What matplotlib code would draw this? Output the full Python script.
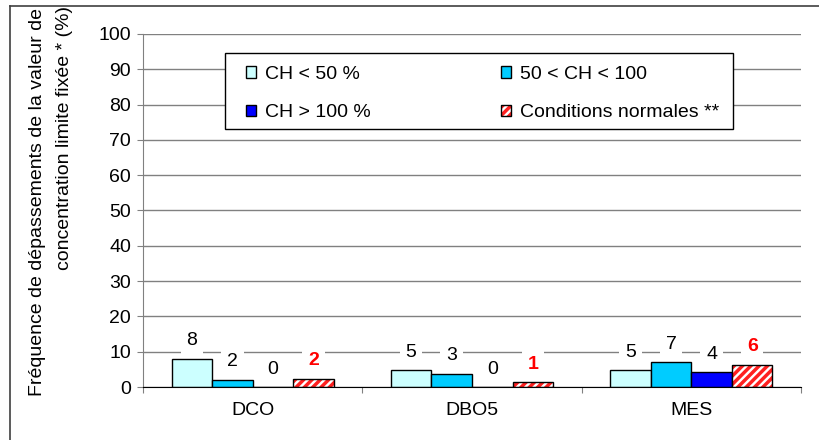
import matplotlib
matplotlib.use("Agg")
import matplotlib.pyplot as plt
from matplotlib.lines import Line2D
from matplotlib.patches import Rectangle
from matplotlib.legend_handler import HandlerTuple
import numpy as np

categories = ["DCO", "DBO5", "MES"]
series_names = ["CH < 50 %", "50 < CH < 100", "CH > 100 %", "Conditions normales **"]
ch_lt50 = [8.0, 4.8, 4.8]
ch_50_100 = [2.0, 3.7, 7.0]
ch_gt100 = [0.0, 0.0, 4.2]
cond_norm = [2.3, 1.4, 6.3]
labels_lt50 = ["8", "5", "5"]
labels_50_100 = ["2", "3", "7"]
labels_gt100 = ["0", "0", "4"]
labels_norm = ["2", "1", "6"]
yticks = list(range(0, 101, 10))

plt.rcParams['font.family'] = ['Liberation Sans', 'DejaVu Sans']
plt.rcParams['hatch.linewidth'] = 2.5

FS = 14
W, H = 819, 440
fig = plt.figure(figsize=(W / 100, H / 100), dpi=100)
ax = fig.add_axes([143 / W, 1 - 387 / H, (801 - 143) / W, (387 - 34) / H])

x = np.arange(len(categories))
bw = 0.185
offs = np.array([-1.5, -0.5, 0.5, 1.5]) * bw

b1 = ax.bar(x + offs[0], ch_lt50, bw, color="#CCFFFF", edgecolor="black", linewidth=1, zorder=3)
b2 = ax.bar(x + offs[1], ch_50_100, bw, color="#00CCFF", edgecolor="black", linewidth=1, zorder=3)
b3 = ax.bar(x + offs[2], ch_gt100, bw, color="#0000FF", edgecolor="black", linewidth=1, zorder=3)
b4h = ax.bar(x + offs[3], cond_norm, bw, color="white", edgecolor="#FF2020", hatch="////", linewidth=0, zorder=3)
b4e = ax.bar(x + offs[3], cond_norm, bw, fill=False, edgecolor="black", linewidth=1, zorder=4)

def add_labels(xs, vals, labs, color, weight):
    for xi, v, l in zip(xs, vals, labs):
        ax.annotate(l, (xi, v), xytext=(0, 18), textcoords="offset pixels",
                    ha="center", va="center", fontsize=FS, color=color, fontweight=weight,
                    bbox=dict(boxstyle="square,pad=0.3", fc="white", ec="none"), zorder=5)

add_labels(x + offs[0], ch_lt50, labels_lt50, "black", "normal")
add_labels(x + offs[1], ch_50_100, labels_50_100, "black", "normal")
add_labels(x + offs[2], ch_gt100, labels_gt100, "black", "normal")
add_labels(x + offs[3], cond_norm, labels_norm, "#FF0000", "bold")

ax.set_xlim(-0.5, 2.5)
ax.set_ylim(0, 100)
ax.set_yticks(yticks)
ax.yaxis.grid(True, color="#808080", linewidth=1)
ax.set_axisbelow(True)
ax.tick_params(axis="y", direction="out", length=4.5, color="#808080", labelsize=FS, pad=4)

ax.set_xticks([-0.5, 0.5, 1.5, 2.5])
ax.set_xticklabels([])
ax.set_xticks(x, minor=True)
ax.set_xticklabels(categories, minor=True)
ax.tick_params(axis="x", which="major", direction="out", length=4.5, color="#808080")
ax.tick_params(axis="x", which="minor", length=0, labelsize=FS, pad=11)

for s in ["top", "right"]:
    ax.spines[s].set_visible(False)
ax.spines["left"].set_color("#808080")
ax.spines["bottom"].set_color("black")
ax.spines["bottom"].set_zorder(6)

# legend frame
frame = Rectangle((225 / W, 1 - 129 / H), (733 - 225) / W, (129 - 53) / H,
                  transform=fig.transFigure, facecolor="white", edgecolor="black",
                  linewidth=1, zorder=6, clip_on=False)
ax.add_patch(frame)

handles = [b1[0], b3[0], b2[0], (b4h[0], b4e[0])]
labs = [series_names[0], series_names[2], series_names[1], series_names[3]]
leg = ax.legend(handles, labs, ncol=2, fontsize=FS,
                bbox_to_anchor=(246 / W, 1 - 66 / H),
                bbox_transform=fig.transFigure, loc="upper left",
                handlelength=0.52, handleheight=0.52, handletextpad=0.46,
                labelspacing=1.1, columnspacing=6.7, borderaxespad=0, borderpad=0,
                frameon=False,
                handler_map={tuple: HandlerTuple(ndivide=1)})
leg.set_zorder(7)

fig.text(38 / W, 1 - 396 / H, "Fréquence de dépassements de la valeur de", rotation=90,
         ha="center", va="bottom", fontsize=14)
fig.text(65 / W, 1 - 270 / H, "concentration limite fixée * (%)", rotation=90,
         ha="center", va="bottom", fontsize=14)

fig.add_artist(Line2D([10 / W, 10 / W], [0, 1 - 6 / H], transform=fig.transFigure, color="#404040", lw=1.2))
fig.add_artist(Line2D([10 / W, 1], [1 - 6 / H, 1 - 6 / H], transform=fig.transFigure, color="#404040", lw=1.2))

fig.savefig("out.png", dpi=100)
